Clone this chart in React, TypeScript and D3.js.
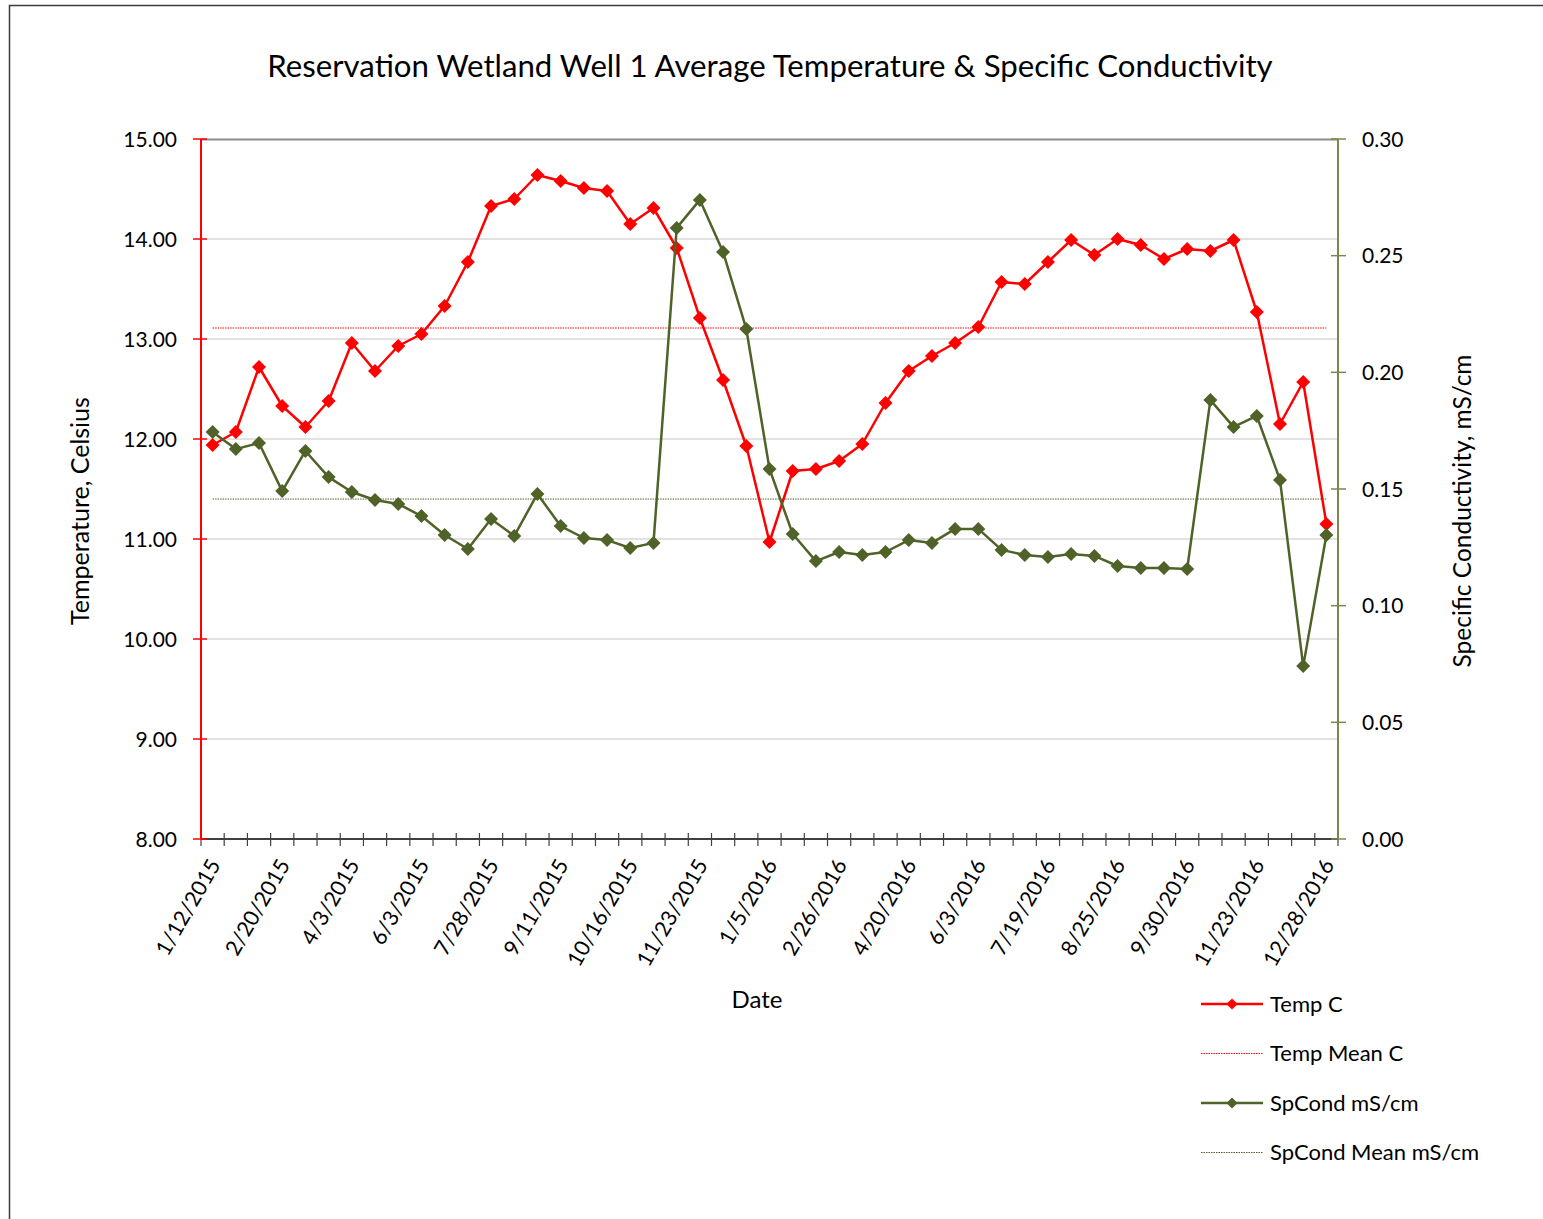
import { useEffect } from 'react'
import * as d3 from 'd3'

// one value per sampling date (49 dates, labelled every third)
const tickLabels = [
  '1/12/2015', '2/20/2015', '4/3/2015', '6/3/2015', '7/28/2015', '9/11/2015',
  '10/16/2015', '11/23/2015', '1/5/2016', '2/26/2016', '4/20/2016', '6/3/2016',
  '7/19/2016', '8/25/2016', '9/30/2016', '11/23/2016', '12/28/2016',
]

const tempC = [
  11.94, 12.07, 12.72, 12.33, 12.12, 12.38, 12.96, 12.68, 12.93, 13.05,
  13.33, 13.77, 14.33, 14.40, 14.64, 14.58, 14.51, 14.48, 14.15, 14.31,
  13.91, 13.21, 12.59, 11.93, 10.97, 11.68, 11.70, 11.78, 11.95, 12.36,
  12.68, 12.83, 12.96, 13.12, 13.57, 13.55, 13.77, 13.99, 13.84, 14.00,
  13.94, 13.80, 13.90, 13.88, 13.99, 13.27, 12.15, 12.57, 11.15,
]

const spCond = [
  0.1744, 0.1671, 0.1697, 0.1491, 0.1663, 0.1551, 0.1487, 0.1453, 0.1436, 0.1384,
  0.1303, 0.1243, 0.1371, 0.1299, 0.1479, 0.1341, 0.1290, 0.1281, 0.1247, 0.1269,
  0.2619, 0.2739, 0.2516, 0.2186, 0.1586, 0.1307, 0.1191, 0.1230, 0.1217, 0.1230,
  0.1281, 0.1269, 0.1329, 0.1329, 0.1239, 0.1217, 0.1209, 0.1221, 0.1213, 0.1170,
  0.1161, 0.1161, 0.1157, 0.1881, 0.1766, 0.1813, 0.1539, 0.0741, 0.1303,
]

const tempMean = 13.11
const spCondMean = 0.1457

const tempTicks = [8, 9, 10, 11, 12, 13, 14, 15]
const spTicks = [0, 0.05, 0.1, 0.15, 0.2, 0.25, 0.3]

const legendItems = [
  { label: 'Temp C', color: '#ff0000', marker: true },
  { label: 'Temp Mean C', color: '#ff0000', marker: false },
  { label: 'SpCond mS/cm', color: '#4f6228', marker: true },
  { label: 'SpCond Mean mS/cm', color: '#4f6228', marker: false },
]

const W = 1543
const H = 1219
const FONT = 'Lato, "Open Sans", sans-serif'
const RED = '#ff0000'
const GREEN = '#4f6228'
const AXIS_GREEN = '#77884a'

export default function App() {
  useEffect(() => {
    document.body.style.margin = '0'
  }, [])

  const left = 201, right = 1338, top = 139, bottom = 839
  const n = tempC.length
  const x = d3.scaleBand<number>().domain(d3.range(n)).range([left, right])
  const cx = (i: number) => (x(i) as number) + x.bandwidth() / 2
  const yT = d3.scaleLinear().domain([8, 15]).range([bottom, top])
  const yS = d3.scaleLinear().domain([0, 0.3]).range([bottom, top])

  const tempLine = d3.line<number>().x((_, i) => cx(i)).y(d => yT(d))
  const spLine = d3.line<number>().x((_, i) => cx(i)).y(d => yS(d))
  const diamond = d3.symbol(d3.symbolDiamond2, 125)()
  const legendDiamond = d3.symbol(d3.symbolDiamond2, 80)()

  const boundaries = d3.range(n + 1).map(i => left + i * x.bandwidth())
  const midY = 511

  return (
    <svg width={W} height={H} style={{ position: 'absolute', left: 0, top: 0, display: 'block' }}
      fontFamily={FONT}>
      <rect x={0} y={0} width={W} height={H} fill="#fff" />
      <rect x={9.5} y={5.5} width={W + 20} height={H + 20} fill="none" stroke="#3a3a3a" strokeWidth={1.5} />

      <text x={770} y={77} textAnchor="middle" fontSize={31.2} fill="#000">
        Reservation Wetland Well 1 Average Temperature &amp; Specific Conductivity
      </text>

      {/* gridlines */}
      {tempTicks.filter(t => t > 8 && t < 15).map(t => (
        <line key={t} x1={left} x2={right} y1={yT(t)} y2={yT(t)} stroke="#d9d9d9" strokeWidth={1.5} />
      ))}
      <line x1={left} x2={right} y1={top + 0.5} y2={top + 0.5} stroke="#8c8c8c" strokeWidth={2} />

      {/* mean lines */}
      <line x1={cx(0)} x2={cx(n - 1)} y1={yT(tempMean)} y2={yT(tempMean)}
        stroke={RED} strokeWidth={1} strokeDasharray="1.5,1" />
      <line x1={cx(0)} x2={cx(n - 1)} y1={yS(spCondMean)} y2={yS(spCondMean)}
        stroke={GREEN} strokeWidth={1} strokeDasharray="1.5,1" />

      {/* x axis */}
      <line x1={left} x2={right} y1={bottom} y2={bottom} stroke="#404040" strokeWidth={2} />
      {boundaries.map((b, i) => (
        <line key={i} x1={b} x2={b} y1={bottom - 6} y2={bottom + 7} stroke="#404040" strokeWidth={1.2} />
      ))}
      {tickLabels.map((lab, k) => {
        const px = cx(k * 3)
        return (
          <text key={lab + k} transform={`translate(${px + 2},${bottom + 22}) rotate(-60)`}
            textAnchor="end" dy="0.35em" fontSize={21.5} fill="#000">{lab}</text>
        )
      })}
      <text x={757} y={1008} textAnchor="middle" fontSize={24} fill="#000">Date</text>

      {/* left axis */}
      <line x1={left} x2={left} y1={top} y2={bottom} stroke={RED} strokeWidth={2} />
      {tempTicks.map(t => (
        <g key={t}>
          <line x1={left - 8} x2={left + 6} y1={yT(t)} y2={yT(t)} stroke={RED} strokeWidth={1.5} />
          <text x={177} y={yT(t)} textAnchor="end" dy="0.36em" fontSize={21} fill="#000">
            {t.toFixed(2)}
          </text>
        </g>
      ))}
      <text transform={`translate(80,${midY}) rotate(-90)`} textAnchor="middle"
        dy="0.35em" fontSize={25} fill="#000">Temperature, Celsius</text>

      {/* right axis */}
      <line x1={right} x2={right} y1={top} y2={bottom} stroke={AXIS_GREEN} strokeWidth={2} />
      {spTicks.map(t => (
        <g key={t}>
          <line x1={right - 7} x2={right + 8} y1={yS(t)} y2={yS(t)} stroke={AXIS_GREEN} strokeWidth={1.5} />
          <text x={1362} y={yS(t)} textAnchor="start" dy="0.36em" fontSize={21} fill="#000">
            {t.toFixed(2)}
          </text>
        </g>
      ))}
      <text transform={`translate(1462,${midY}) rotate(-90)`} textAnchor="middle"
        dy="0.35em" fontSize={24.5} fill="#000">Specific Conductivity, mS/cm</text>

      {/* series */}
      <path d={tempLine(tempC) ?? ''} fill="none" stroke={RED} strokeWidth={2.5} strokeLinejoin="round" />
      {tempC.map((v, i) => (
        <path key={i} d={diamond ?? ''} transform={`translate(${cx(i)},${yT(v)})`} fill={RED} />
      ))}
      <path d={spLine(spCond) ?? ''} fill="none" stroke={GREEN} strokeWidth={2.5} strokeLinejoin="round" />
      {spCond.map((v, i) => (
        <path key={i} d={diamond ?? ''} transform={`translate(${cx(i)},${yS(v)})`} fill={GREEN} />
      ))}

      {/* legend */}
      {legendItems.map((it, k) => {
        const ly = 1004 + k * 49.5
        return (
          <g key={it.label}>
            {it.marker ? (
              <>
                <line x1={1201} x2={1263} y1={ly} y2={ly} stroke={it.color} strokeWidth={2.5} />
                <path d={legendDiamond ?? ''} transform={`translate(1232,${ly})`} fill={it.color} />
              </>
            ) : (
              <line x1={1201} x2={1263} y1={ly} y2={ly} stroke={it.color} strokeWidth={1}
                strokeDasharray="1.5,1" />
            )}
            <text x={1270} y={ly} dy="0.35em" fontSize={22} fill="#000">{it.label}</text>
          </g>
        )
      })}
    </svg>
  )
}
